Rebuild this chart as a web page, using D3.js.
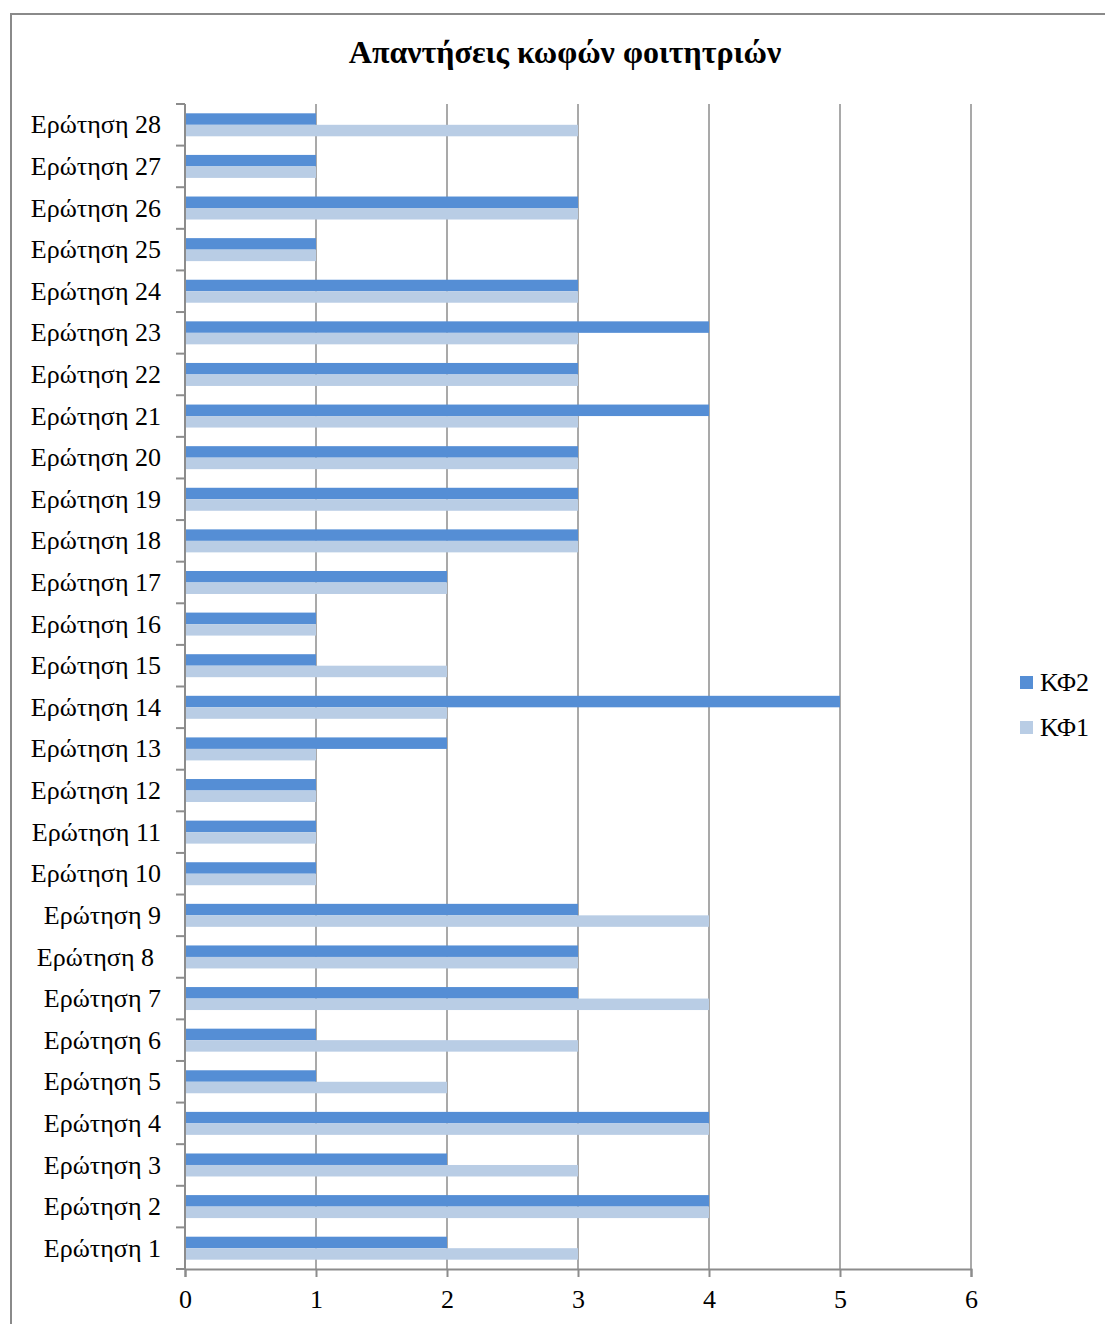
<!DOCTYPE html>
<html>
<head>
<meta charset="utf-8">
<script src="https://cdn.jsdelivr.net/npm/d3@7"></script>
<style>
  body { margin: 0; background: #fff; }
  text { font-family: "Liberation Serif", "DejaVu Serif", serif; fill: #000; }
</style>
</head>
<body>
<div id="chart"></div>
<script>
// questions, bottom (1) to top (28)
const questions = d3.range(1, 29).map((i) => `Ερώτηση ${i}`);
const kf1 = [3, 4, 3, 4, 2, 3, 4, 3, 4, 1, 1, 1, 1, 2, 2, 1, 2, 3, 3, 3, 3, 3, 3, 3, 1, 3, 1, 3];
const kf2 = [2, 4, 2, 4, 1, 1, 3, 3, 3, 1, 1, 1, 2, 5, 1, 1, 2, 3, 3, 3, 4, 3, 4, 3, 1, 3, 1, 1];
const seriesNames = ["ΚΦ2", "ΚΦ1"];
const xTicks = [0, 1, 2, 3, 4, 5, 6];

const colors = { "ΚΦ2": "#558ed5", "ΚΦ1": "#b9cde5" };
const width = 1105, height = 1324;
const margin = { top: 104, left: 185, right: 134, bottom: 55 };
const innerW = width - margin.left - margin.right;
const innerH = height - margin.top - margin.bottom;

const svg = d3.select("#chart").append("svg")
  .attr("width", width)
  .attr("height", height);

// outer frame
svg.append("rect")
  .attr("x", 11).attr("y", 14)
  .attr("width", width).attr("height", height)
  .attr("fill", "none")
  .attr("stroke", "#8a8a8a")
  .attr("stroke-width", 2);

svg.append("text")
  .attr("x", 565).attr("y", 63)
  .attr("text-anchor", "middle")
  .attr("font-size", 32)
  .attr("font-weight", "bold")
  .text("Απαντήσεις κωφών φοιτητριών");

const g = svg.append("g").attr("transform", `translate(${margin.left},${margin.top})`);

const x = d3.scaleLinear().domain([0, 6]).range([0, innerW]);
const y = d3.scaleBand().domain(questions.slice().reverse()).range([0, innerH]).paddingInner(0).paddingOuter(0);
const inner = d3.scaleBand().domain(seriesNames).range([0, y.bandwidth()]).paddingInner(0).paddingOuter(0.81);

// gridlines
g.selectAll(".grid")
  .data(xTicks.slice(1))
  .join("line")
  .attr("x1", (d) => x(d)).attr("x2", (d) => x(d))
  .attr("y1", 0).attr("y2", innerH)
  .attr("stroke", "#8c8c8c")
  .attr("stroke-width", 1.5);

const rows = questions.map((q, i) => ({ q, "ΚΦ2": kf2[i], "ΚΦ1": kf1[i] }));

g.selectAll(".row")
  .data(rows)
  .join("g")
  .attr("transform", (d) => `translate(0,${y(d.q)})`)
  .selectAll("rect")
  .data((d) => seriesNames.map((s) => ({ s, v: d[s] })))
  .join("rect")
  .attr("x", 0)
  .attr("y", (d) => inner(d.s))
  .attr("width", (d) => x(d.v))
  .attr("height", inner.bandwidth())
  .attr("fill", (d) => colors[d.s]);

// x axis
const xAxis = g.append("g")
  .attr("transform", `translate(0,${innerH})`)
  .call(d3.axisBottom(x).tickValues(xTicks).tickSize(8).tickPadding(13).tickFormat(d3.format("d")));
xAxis.selectAll("text").attr("font-size", 26).attr("font-family", "Liberation Serif, serif");

// y axis: ticks at band boundaries
const yAxis = g.append("g");
yAxis.append("line")
  .attr("x1", 0).attr("x2", 0).attr("y1", 0).attr("y2", innerH);
yAxis.selectAll(".ytick")
  .data(d3.range(0, 29))
  .join("line")
  .attr("x1", -9).attr("x2", 0)
  .attr("y1", (d) => d * y.step()).attr("y2", (d) => d * y.step());
yAxis.selectAll("line").attr("stroke", "#8c8c8c").attr("stroke-width", 2);

yAxis.selectAll(".ylab")
  .data(questions)
  .join("text")
  .attr("x", (d) => d === "Ερώτηση 8" ? -31 : -24)
  .attr("y", (d) => y(d) + y.bandwidth() / 2)
  .attr("dy", "0.33em")
  .attr("text-anchor", "end")
  .attr("font-size", 26)
  .text((d) => d);

xAxis.selectAll("path, line").attr("stroke", "#8c8c8c").attr("stroke-width", 2);

// legend
const legend = svg.append("g").attr("transform", "translate(1020,676)");
seriesNames.forEach((s, i) => {
  legend.append("rect")
    .attr("x", 0).attr("y", i * 45)
    .attr("width", 13).attr("height", 13)
    .attr("fill", colors[s]);
  legend.append("text")
    .attr("x", 20).attr("y", i * 45 + 15)
    .attr("font-size", 26)
    .text(s);
});
</script>
</body>
</html>
